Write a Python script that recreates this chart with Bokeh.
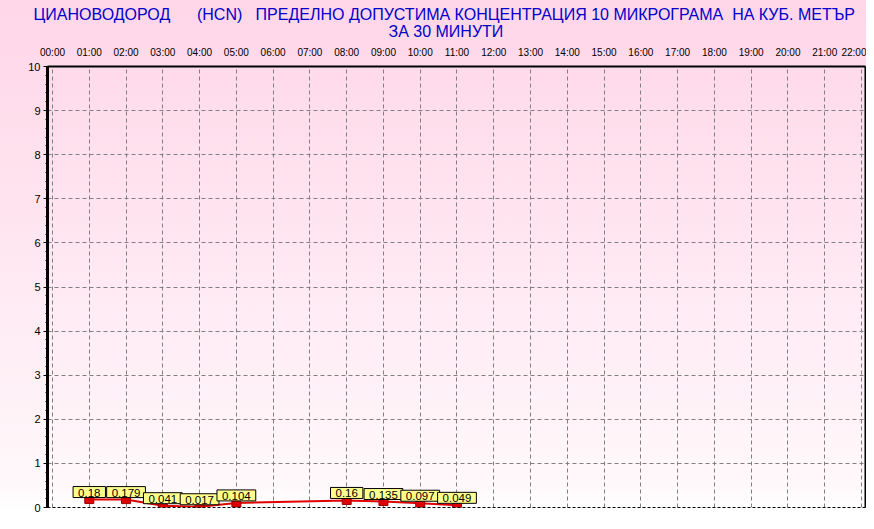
from bokeh.plotting import figure
from bokeh.models import Range1d, FixedTicker, SingleIntervalTicker, LinearAxis, Title, ColumnDataSource
from bokeh.core.properties import value
from bokeh.embed import file_html
from bokeh.resources import INLINE

# ---- data ----
hours = [1, 2, 3, 4, 5, 8, 9, 10, 11]
values = [0.18, 0.179, 0.041, 0.017, 0.104, 0.16, 0.135, 0.097, 0.049]
value_labels = ["0.18", "0.179", "0.041", "0.017", "0.104", "0.16", "0.135", "0.097", "0.049"]
hour_ticks = list(range(0, 23))
hour_labels = ["00:00", "01:00", "02:00", "03:00", "04:00", "05:00", "06:00", "07:00",
               "08:00", "09:00", "10:00", "11:00", "12:00", "13:00", "14:00", "15:00",
               "16:00", "17:00", "18:00", "19:00", "20:00", "21:00", "22:00"]
y_ticks = list(range(0, 11))
title_line1 = ("ЦИАНОВОДОРОД\u00a0\u00a0\u00a0\u00a0\u00a0 (HCN)\u00a0\u00a0 ПРЕДЕЛНО ДОПУСТИМА "
               "КОНЦЕНТРАЦИЯ 10 МИКРОГРАМА\u00a0 НА КУБ. МЕТЪР")
title_line2 = "ЗА 30 МИНУТИ"

FONT = "Liberation Sans"

src = ColumnDataSource(dict(x=hours, y=values, t=value_labels))

p = figure(width=866, height=521, x_range=Range1d(-0.136, 22.109), y_range=Range1d(0, 10),
           output_backend="svg", toolbar_location=None, title=None,
           x_axis_location="above", y_axis_location="left",
           min_border_left=47, min_border_right=1, min_border_top=66, min_border_bottom=14)

p.background_fill_color = None
p.border_fill_color = None
p.outline_line_color = None
p.styles = {
    "background": "linear-gradient(to bottom, #FFD6E8 0%, #FFE4EF 40%, #FFF8FB 93%, #FFFFFF 98%, #FFFFFF 100%)",
}

# top axis
xa = p.xaxis[0]
xa.ticker = FixedTicker(ticks=hour_ticks)
xa.major_label_overrides = {t: l for t, l in zip(hour_ticks, hour_labels)}
xa.axis_line_color = "black"
xa.axis_line_width = 2
xa.major_tick_in = 0
xa.major_tick_out = 0
xa.minor_tick_line_color = None
xa.major_label_standoff = 9
xa.major_label_text_font = FONT
xa.major_label_text_font_size = "10px"
xa.major_label_text_color = "black"

# left axis
ya = p.yaxis[0]
ya.ticker = SingleIntervalTicker(interval=1, num_minor_ticks=5)
ya.axis_line_color = "black"
ya.axis_line_width = 3
ya.major_tick_in = 0
ya.major_tick_out = 4
ya.minor_tick_in = 0
ya.minor_tick_out = 2
ya.major_tick_line_color = "black"
ya.minor_tick_line_color = "black"
ya.major_label_standoff = 3
ya.major_label_text_font = FONT
ya.major_label_text_font_size = "11px"
ya.major_label_text_color = "black"

# right and bottom border axes
ra = LinearAxis(ticker=FixedTicker(ticks=[]), axis_line_color="black", axis_line_width=2,
                major_tick_line_color=None, minor_tick_line_color=None)
p.add_layout(ra, "right")
ba = LinearAxis(ticker=FixedTicker(ticks=[]), axis_line_color="black", axis_line_width=1,
                axis_line_dash="3 2", major_tick_line_color=None, minor_tick_line_color=None)
p.add_layout(ba, "below")

# grids
p.xgrid.ticker = FixedTicker(ticks=hour_ticks)
p.ygrid.ticker = FixedTicker(ticks=y_ticks)
for g in (p.xgrid[0], p.ygrid[0]):
    g.grid_line_color = "#808080"
    g.grid_line_dash = "4 3"
    g.grid_line_width = 1

# series
p.line("x", "y", source=src, line_color="#E00000", line_width=2)
p.rect("x", "y", width=9, height=8, width_units="screen", height_units="screen", source=src,
       fill_color="#DD0000", line_color="#A00000")
p.text("x", "y", text="t", source=src, anchor="bottom_center", y_offset=-2,
       text_font=value(FONT), text_font_size="11.5px", text_color="black",
       text_align="center", text_baseline="bottom",
       background_fill_color="#FFFF8C", border_line_color="black", border_line_width=1,
       padding=dict(left=5, right=5, top=2, bottom=1))

# titles
t2 = Title(text=title_line2, align="left", offset=341, standoff=8,
           text_font=FONT, text_font_size="16px", text_font_style="normal", text_color="#0000CC")
t1 = Title(text=title_line1, align="left", offset=-14, standoff=-12,
           text_font=FONT, text_font_size="16px", text_font_style="normal", text_color="#0000CC")
p.add_layout(t2, "above")
p.add_layout(t1, "above")

open("out.html", "w").write(file_html(p, INLINE))
